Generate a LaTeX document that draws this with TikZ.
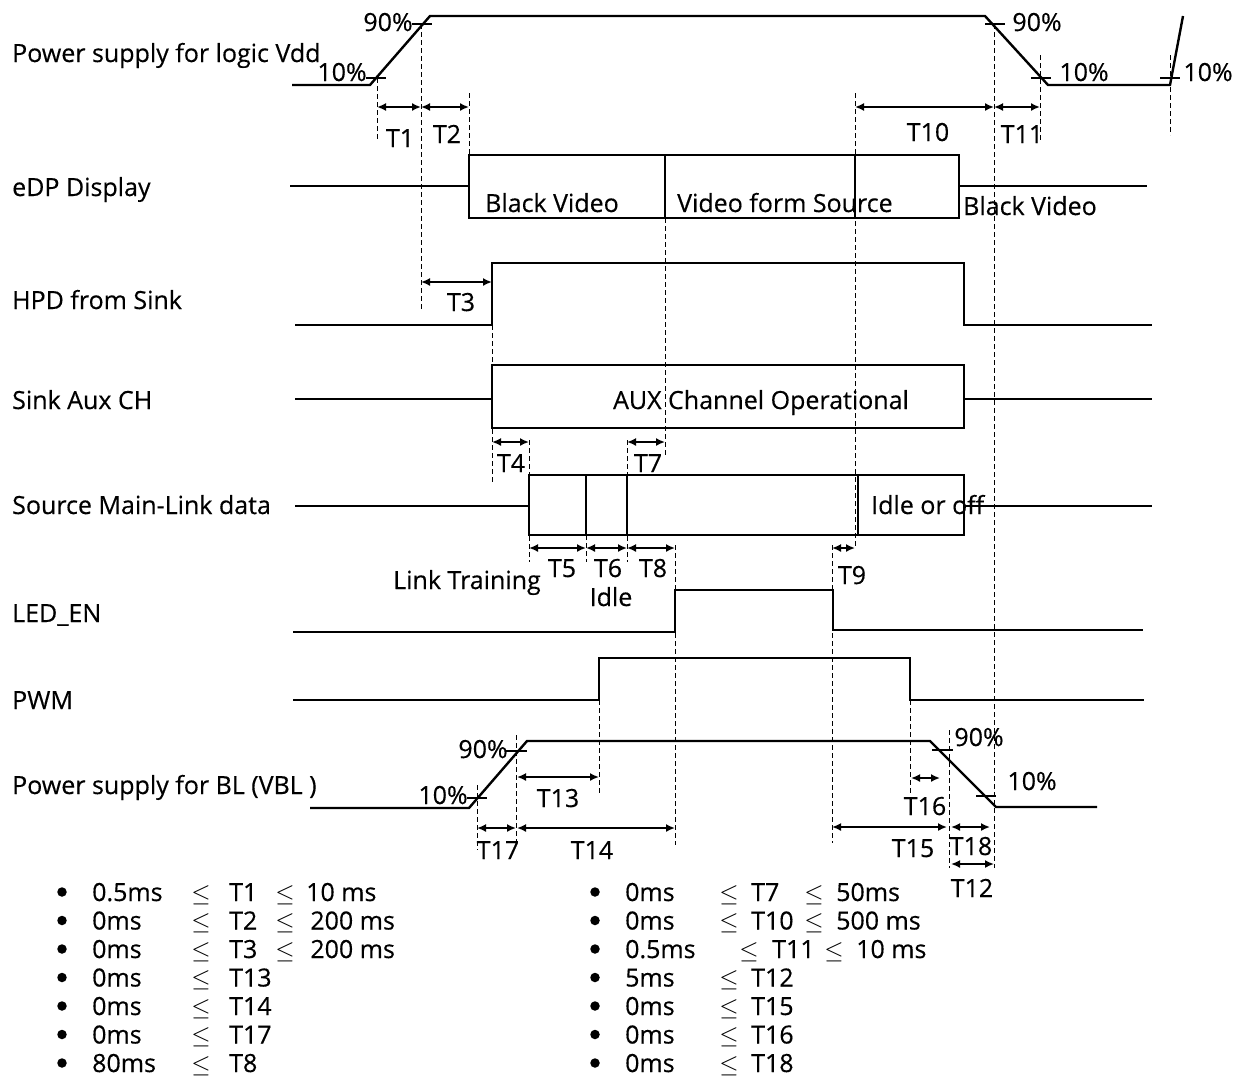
\documentclass[tikz,border=0pt]{standalone}
\usepackage{fontspec}
\setmainfont{Open Sans}[FakeBold=0.35]
\usetikzlibrary{arrows.meta}
\newcommand\fs{\fontsize{25}{29}\selectfont}
\begin{document}
\begin{tikzpicture}[x=1pt,y=-1pt,
 sig/.style={line width=2.4pt},
 dsh/.style={line width=0.9pt, dash pattern=on 5pt off 3pt},
 dim/.style={{Latex[length=9pt,width=8pt]}-{Latex[length=9pt,width=8pt]}, line width=1.7pt},
 tk/.style={line width=2pt},
 txt/.style={inner sep=0pt, font=\fs, anchor=base},
 ltxt/.style={txt, anchor=base west},
 lst/.style={txt, text depth=0pt},
 llst/.style={lst, anchor=base west},
 bul/.style={circle, fill, inner sep=0pt, minimum size=9.5pt},
]
\useasboundingbox (0,0) rectangle (1242,1079);

% ---------- dashed guide lines ----------
\draw[dsh] (377,78) -- (377,140);
\draw[dsh] (421,24) -- (421,310);
\draw[dsh] (469,93) -- (469,218);
\draw[dsh] (855,93) -- (855,548);
\draw[dsh] (994,24) -- (994,868);
\draw[dsh] (1040,55) -- (1040,140);
\draw[dsh] (1170,55) -- (1170,135);
\draw[dsh] (665,218) -- (665,455);
\draw[dsh] (492,325) -- (492,482);
\draw[dsh] (529,440) -- (529,562);
\draw[dsh] (586,535) -- (586,562);
\draw[dsh] (627,440) -- (627,562);
\draw[dsh] (675,545) -- (675,845);
\draw[dsh] (832,545) -- (832,843);
\draw[dsh] (599,700) -- (599,793);
\draw[dsh] (910,700) -- (910,793);
\draw[dsh] (949,730) -- (949,868);
\draw[dsh] (516,735) -- (516,845);
\draw[dsh] (477,785) -- (477,850);

% ---------- signals ----------
% Vdd
\draw[sig] (292,85) -- (370,85) -- (430,16) -- (985,16) -- (1048,85) -- (1170,85) -- (1183,16);
\draw[tk] (366,78) -- (386,78);
\draw[tk] (412,24) -- (432,24);
\draw[tk] (985,24) -- (1005,24);
\draw[tk] (1031,78) -- (1051,78);
\draw[tk] (1160,78) -- (1180,78);
% eDP
\draw[sig] (290,186) -- (469,186);
\draw[sig] (469,155) rectangle (959,218);
\draw[sig] (665,155) -- (665,218);
\draw[sig] (855,155) -- (855,218);
\draw[sig] (959,186) -- (1147,186);
% HPD
\draw[sig] (295,325) -- (492,325) -- (492,263) -- (964,263) -- (964,325) -- (1152,325);
% Aux
\draw[sig] (295,399) -- (492,399);
\draw[sig] (492,365) rectangle (964,428);
\draw[sig] (964,399) -- (1152,399);
% Main link
\draw[sig] (295,506) -- (529,506);
\draw[sig] (529,475) rectangle (964,535);
\draw[sig] (586,475) -- (586,535);
\draw[sig] (627,475) -- (627,535);
\draw[sig] (858,475) -- (858,535);
\draw[sig] (964,506) -- (1152,506);
% LED_EN
\draw[sig] (293,632) -- (675,632) -- (675,590) -- (833,590) -- (833,630) -- (1143,630);
% PWM
\draw[sig] (293,700) -- (599,700) -- (599,658) -- (910,658) -- (910,700) -- (1144,700);
% BL
\draw[sig] (310,808) -- (469,808) -- (527,741) -- (930,741) -- (996,807) -- (1097,807);
\draw[tk] (467,798) -- (487,798);
\draw[tk] (506,751) -- (527,751);
\draw[tk] (932,750) -- (953,750);
\draw[tk] (976,796) -- (996,796);

% ---------- dimension arrows ----------
\draw[dim] (377,107) -- (421,107);
\draw[dim] (421,107) -- (469,107);
\draw[dim] (855,107) -- (994,107);
\draw[dim] (994,107) -- (1040,107);
\draw[dim] (421,282) -- (492,282);
\draw[dim] (492,442) -- (529,442);
\draw[dim] (627,442) -- (665,442);
\draw[dim] (529,548) -- (586,548);
\draw[dim] (586,548) -- (627,548);
\draw[dim] (627,548) -- (675,548);
\draw[dim] (832,548) -- (855,548);
\draw[dim] (517,777) -- (599,777);
\draw[dim] (477,828) -- (516,828);
\draw[dim] (517,828) -- (675,828);
\draw[dim] (911,778) -- (940,778);
\draw[dim] (832,827) -- (947,827);
\draw[dim] (951,827) -- (990,827);
\draw[dim] (951,864) -- (994,864);

% ---------- labels ----------
\node[ltxt] (nVdd) at (12,62) {Power supply for logic Vdd};
\node[ltxt] (nEDP) at (12,196) {eDP Display};
\node[ltxt] (nHPD) at (12,309) {HPD from Sink};
\node[ltxt] (nAUX) at (12,409) {Sink Aux CH};
\node[ltxt] (nML) at (12,514) {Source Main-Link data};
\node[ltxt] (nLED) at (12,622) {LED\_EN};
\node[ltxt] (nPWM) at (12,709) {PWM};
\node[ltxt] (nBL) at (12,794) {Power supply for BL (VBL )};

\node[txt] (p1) at (342,81) {10\%};
\node[txt] (p2) at (388,31) {90\%};
\node[txt] (p3) at (1037,31) {90\%};
\node[txt] (p4) at (1084,81) {10\%};
\node[txt] (p5) at (1208,81) {10\%};
\node[txt] (p6) at (483,758) {90\%};
\node[txt] (p7) at (443,804) {10\%};
\node[txt] (p8) at (979,746) {90\%};
\node[txt] (p9) at (1032,790) {10\%};

\node[ltxt] (b1) at (485,212) {Black Video};
\node[ltxt] (b2) at (677,212) {Video form Source};
\node[ltxt] (b3) at (963,215) {Black Video};
\node[txt] (b4) at (761,409) {AUX Channel Operational};
\node[ltxt] (b5) at (871,514) {Idle or off};
\node[txt] (b6) at (467,589) {Link Training};
\node[txt] (b7) at (611,606) {Idle};

\node[txt] (t1) at (400,147) {T1};
\node[txt] (t2) at (447,143) {T2};
\node[txt] (t10) at (928,141) {T10};
\node[txt] (t11) at (1022,143) {T11};
\node[txt] (t3) at (461,311) {T3};
\node[txt] (t4) at (511,472) {T4};
\node[txt] (t7) at (648,472) {T7};
\node[txt] (t5) at (562,577) {T5};
\node[txt] (t6) at (608,577) {T6};
\node[txt] (t8) at (653,577) {T8};
\node[txt] (t9) at (852,584) {T9};
\node[txt] (t13) at (558,807) {T13};
\node[txt] (t17) at (498,859) {T17};
\node[txt] (t14) at (592,859) {T14};
\node[txt] (t16) at (925,815) {T16};
\node[txt] (t15) at (913,857) {T15};
\node[txt] (t18) at (971,855) {T18};
\node[txt] (t12) at (972,897) {T12};

% ---------- condition lists ----------
\foreach \r/\a/\b/\c [count=\i] in {
  {0.5ms}/T1/$\le$/10 ms,
  0ms/T2/$\le$/{\,200 ms},
  0ms/T3/$\le$/{\,200 ms},
  0ms/T13//,
  0ms/T14//,
  0ms/T17//,
  80ms/T8//}{
  \pgfmathsetmacro\yy{901+28.5*(\i-1)}
  \pgfmathsetmacro\yb{892+28.5*(\i-1)}
  \node[bul] (lb\i) at (62,\yb) {};
  \node[llst] (la\i) at (92,\yy) {\r};
  \node[lst] (lc\i) at (201,\yy) {$\le$};
  \node[llst] (ld\i) at (229,\yy) {\a};
  \node[lst] (le\i) at (285,\yy) {\b};
  \node[llst] (lf\i) at (306,\yy) {\c};
}
\foreach \r/\a/\b/\c [count=\i] in {
  0ms/T7/$\le$/50ms,
  0ms/T10/$\le$/500 ms,
  5ms/T12//,
  0ms/T15//,
  0ms/T16//,
  0ms/T18//}{
  \pgfmathtruncatemacro\k{\i>2 ? \i+1 : \i}
  \pgfmathsetmacro\yy{901+28.5*(\k-1)}
  \pgfmathsetmacro\yb{892+28.5*(\k-1)}
  \node[bul] (rb\i) at (595,\yb) {};
  \node[llst] (ra\i) at (625,\yy) {\r};
  \node[lst] (rc\i) at (729,\yy) {$\le$};
  \node[llst] (rd\i) at (751,\yy) {\a};
  \node[lst] (re\i) at (814,\yy) {\b};
  \node[llst] (rf\i) at (836,\yy) {\c};
}
\node[bul] (rb0) at (595,949) {};
\node[llst] (ra0) at (625,958) {0.5ms};
\node[lst] (rc0) at (749,958) {$\le$};
\node[llst] (rd0) at (772,958) {T11};
\node[lst] (re0) at (834,958) {$\le$};
\node[llst] (rf0) at (856,958) {10 ms};
\end{tikzpicture}
\end{document}
